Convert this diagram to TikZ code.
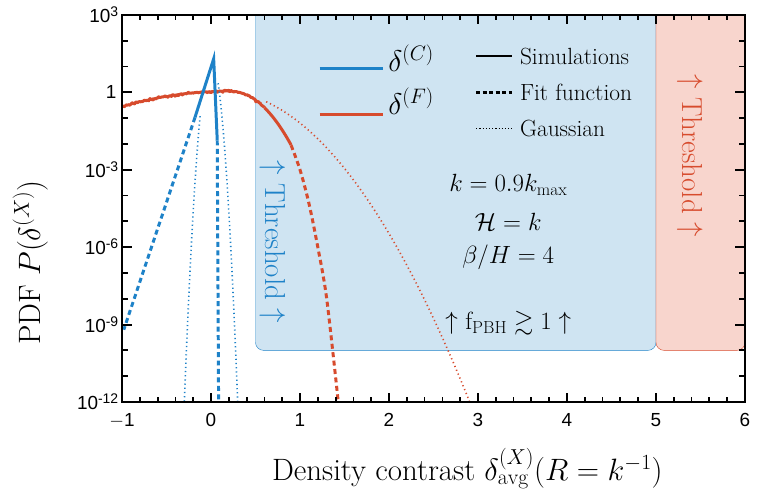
\RequirePackage{fix-cm}
\documentclass[tikz,border=0pt]{standalone}
\usepackage{fontspec}
\usepackage{amsmath}
\usepackage{amssymb}
\newfontfamily\tickfont{Liberation Sans}
\usetikzlibrary{decorations.pathmorphing}
\definecolor{cblue}{RGB}{30,130,200}
\definecolor{cred}{RGB}{215,75,45}
\definecolor{fblue}{RGB}{207,228,242}
\definecolor{fred}{RGB}{248,213,205}

\begin{document}
\begin{tikzpicture}[x=89bp, y=25.8bp, inner sep=0pt,
		curveC/.style={cblue, line width=3pt},
		curveF/.style={cred, line width=3pt},
		fitline/.style={dash pattern=on 5pt off 3.5pt},
		gaussline/.style={line width=1.6pt, dash pattern=on 1.2pt off 3pt},
		ticklab/.style={font=\tickfont\fontsize{19}{19}\selectfont},
		legtext/.style={font=\fontsize{23.5}{23.5}\selectfont, anchor=west},
		note/.style={font=\fontsize{25}{25}\selectfont}]
		\useasboundingbox (-2.371,-15.72) rectangle (6.135,3.58);

		% threshold regions
		\draw[cblue, fill=fblue, rounded corners=8pt] (0.5,3) -- (0.5,-10) -- (5,-10) -- (5,3);
		\draw[cred, fill=fred, rounded corners=8pt] (5,3) -- (5,-10) -- (6,-10) -- (6,3);

		% curves
		\begin{scope}
			\clip (-1,-12) rectangle (6,3);
			\draw[curveF, line join=round, decorate, decoration={random steps, segment length=1.2pt, amplitude=1.2pt}]
				plot[domain=-1:0.6, samples=80] (\x, {\x<0.2 ? 0.05-0.417*(\x-0.2)^2 : 0.05-4.44*pow(abs(\x-0.2),2.11)});
			\draw[curveF] plot[domain=0.6:0.9, samples=20] (\x, {0.05-4.44*pow(\x-0.2,2.11)});
			\draw[curveF, fitline] plot[smooth] coordinates {(0.9,-2.05) (1.0,-3.0) (1.1,-4.3) (1.2,-6.0) (1.3,-8.0) (1.43,-12)};
			\draw[cred, gaussline] plot[domain=0.62:2.95, samples=60] (\x, {0.05-1.53*(\x-0.1)^2});

			\draw[cblue, gaussline] plot[domain=-0.305:-0.12, samples=30] (\x, {1.3-148*\x*\x});
			\draw[cblue, gaussline] plot[domain=0.08:0.305, samples=30] (\x, {1.3-148*\x*\x});
			\draw[curveC, line join=miter] (-0.18,-0.97) -- (0.03,1.3) -- (0.07,-1.86);
			\draw[curveC, fitline] (-0.18,-0.97) -- (-0.98,-9.2);
			\draw[curveC, fitline] (0.07,-1.86) -- (0.085,-12);
		\end{scope}

		% frame and ticks
		\foreach \t in {-1,-0.8,...,6.01} {
			\draw[line width=1.8pt] (\t,-12) -- ++(0,5bp);
			\draw[line width=1.8pt] (\t,3) -- ++(0,-5bp);
		}
		\foreach \t in {-1,...,6} {
			\draw[line width=2pt] (\t,-12) -- ++(0,9bp);
			\draw[line width=2pt] (\t,3) -- ++(0,-9bp);
			\node[ticklab, anchor=north] (xt\t) at (\t,-12.45) {\ifnum\t<0 $-$1\else\t\fi};
		}
		\foreach \t in {-12,...,3} {
			\draw[line width=1.8pt] (-1,\t) -- ++(6bp,0);
			\draw[line width=1.8pt] (6,\t) -- ++(-6bp,0);
		}
		\foreach \t in {-12,-9,-6,-3,3} {
			\draw[line width=2pt] (-1,\t) -- ++(10bp,0);
			\draw[line width=2pt] (6,\t) -- ++(-10bp,0);
			\node[ticklab, anchor=east] (yt\t) at (-1.04,\t) {10\raisebox{6pt}{\fontsize{14}{14}\selectfont\t}};
		}
		\draw[line width=2pt] (-1,0) -- ++(10bp,0);
		\draw[line width=2pt] (6,0) -- ++(-10bp,0);
		\node[ticklab, anchor=east] (yt0) at (-1.06,0) {1};
		\draw[line width=2.6pt] (-1,-12) rectangle (6,3);

		% axis titles
		\node[font=\fontsize{31}{31}\selectfont] (xlab) at (2.88,-14.6) {Density contrast $\delta^{(X)}_{\mathrm{avg}}(R=k^{-1})$};
		\node[font=\fontsize{31}{31}\selectfont, rotate=90] (ylab) at (-2.03,-6.6) {PDF $P(\delta^{(X)})$};

		% legend
		\draw[curveC] (1.22,0.93) -- (1.93,0.93) coordinate (lc);
		\node[anchor=base west, font=\fontsize{30}{30}\selectfont] (lcC) at (1.99,0.8) {$\delta^{(C)}$};
		\draw[curveF] (1.22,-0.85) -- (1.93,-0.85) coordinate (lf);
		\node[anchor=base west, font=\fontsize{30}{30}\selectfont] (lcF) at (1.99,-0.85) {$\delta^{(F)}$};
		\draw[line width=2.4pt] (2.98,1.4) -- (3.38,1.4) coordinate (ls);
		\node[legtext] (lsim) at (3.47,1.4) {Simulations};
		\draw[line width=2.4pt, dash pattern=on 4pt off 2.5pt] (2.98,0) -- (3.38,0) coordinate (lfit);
		\node[legtext] (lfitt) at (3.47,0) {Fit function};
		\draw[line width=1pt, dash pattern=on 1.2pt off 2pt] (2.98,-1.4) -- (3.38,-1.4) coordinate (lg);
		\node[legtext] (lgau) at (3.47,-1.4) {Gaussian};

		% annotations
		\node[note] (kval) at (3.34,-3.6) {$k=0.9k_{\max}$};
		\node[note] (hval) at (3.34,-5.0) {$\mathcal{H}=k$};
		\node[note] (bval) at (3.34,-6.4) {$\beta/H=4$};
		\node[note] (fpbh) at (3.34,-8.95) {$\uparrow$ f$_{\mathrm{PBH}}\gtrsim1\uparrow$};
		\node[cblue, rotate=-90, font=\fontsize{29}{29}\selectfont] (thrC) at (0.69,-5.8) {$\uparrow$ Threshold $\uparrow$};
		\node[cred, rotate=-90, font=\fontsize{29}{29}\selectfont] (thrF) at (5.38,-2.45) {$\uparrow$ Threshold $\uparrow$};
	\end{tikzpicture}
\end{document}
